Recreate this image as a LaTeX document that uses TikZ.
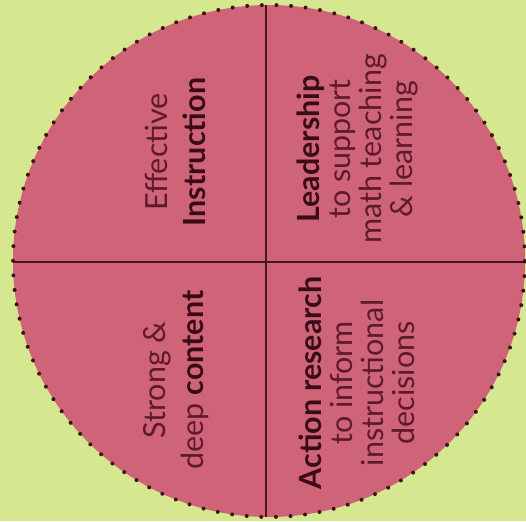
\documentclass[tikz,border=0pt]{standalone}
\usepackage{fontspec}
\setmainfont{Lato}
\definecolor{bgc}{HTML}{D5E78F}
\definecolor{pinkc}{HTML}{CF6479}
\definecolor{dotc}{HTML}{3A1518}
\definecolor{divc}{HTML}{4A1420}
\definecolor{textc}{HTML}{5E1A2C}
\definecolor{boldc}{HTML}{3A0C18}
\newcommand{\bt}[1]{{\bfseries\color{boldc}#1}}
\begin{document}
\begin{tikzpicture}[x=1pt,y=-1pt,
  lblL/.style={text=textc, align=center, rotate=90, inner sep=0pt,
    font=\fontsize{30.5}{38}\selectfont},
  lblR/.style={text=textc, align=center, rotate=90, inner sep=0pt,
    font=\fontsize{30.5}{31}\selectfont},
  divider/.style={draw=divc, line width=2.6pt},
  dotring/.style={draw=dotc, line width=4pt, line cap=round, dash pattern=on 0pt off 14.62pt}]
\useasboundingbox (0,0) rectangle (526,521);
\fill[bgc] (0,0) rectangle (526,521);
\node[circle, minimum size=512pt, fill=pinkc, inner sep=0pt] (disk) at (269,261) {};
\coordinate (vtop) at (266,5);
\coordinate (vbot) at (266,517);
\coordinate (hleft) at (13,262);
\coordinate (hright) at (525,262);
\draw[divider] (vtop) -- (vbot);
\draw[divider] (hleft) -- (hright);
\draw[dotring] (disk.center) circle[radius=256pt];
\node[lblL] (eff) at (175,152) {Effective\\ \bt{Instruction}};
\node[lblR] (lead) at (357,149) {\bt{Leadership}\\ to support\\ math teaching\\ \& learning};
\node[lblL] (strong) at (176,380) {Strong \&\\ deep \bt{content}};
\node[lblR] (act) at (357,383) {\bt{Action research}\\ to inform\\ instructional\\ decisions};
\end{tikzpicture}
\end{document}
